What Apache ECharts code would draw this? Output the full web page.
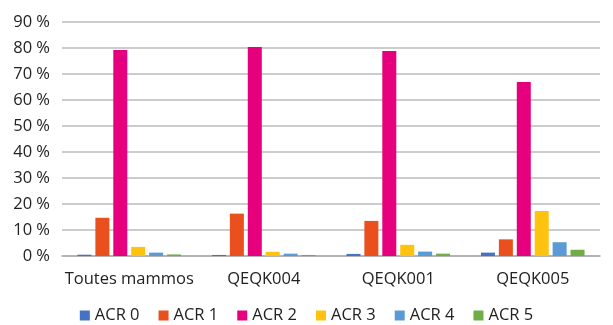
<!DOCTYPE html>
<html>
<head>
<meta charset="utf-8">
<script src="https://cdn.jsdelivr.net/npm/echarts@6/dist/echarts.min.js"></script>
<style>
  html, body { margin: 0; padding: 0; background: #fff; }
  #chart { width: 613px; height: 325px; }
</style>
</head>
<body>
<div id="chart"></div>
<script>
// Distribution of ACR density classes by group (percent)
const categories = ['Toutes mammos', 'QEQK004', 'QEQK001', 'QEQK005'];
const seriesNames = ['ACR 0', 'ACR 1', 'ACR 2', 'ACR 3', 'ACR 4', 'ACR 5'];
const acr0 = [0.5, 0.4, 0.8, 1.3];
const acr1 = [14.7, 16.3, 13.5, 6.4];
const acr2 = [79.2, 80.4, 78.8, 66.9];
const acr3 = [3.5, 1.6, 4.3, 17.3];
const acr4 = [1.3, 0.9, 1.7, 5.3];
const acr5 = [0.6, 0.4, 0.9, 2.4];
const yTicks = [0, 10, 20, 30, 40, 50, 60, 70, 80, 90];

const values = [acr0, acr1, acr2, acr3, acr4, acr5];
const colors = ['#4472C4', '#EA4F1E', '#E6007E', '#FFC20E', '#5B9BD5', '#70AD47'];
const font = '"Open Sans", Lato, sans-serif';

const chart = echarts.init(document.getElementById('chart'));
chart.setOption({
  animation: false,
  grid: { left: 62, right: 13, top: 22, bottom: 69 },
  legend: {
    top: 302,
    left: 'center',
    itemWidth: 10,
    itemHeight: 10,
    itemGap: 19,
    icon: 'rect',
    textStyle: { fontFamily: font, fontSize: 16.5, fontWeight: 500, color: '#222' },
    data: seriesNames
  },
  xAxis: {
    type: 'category',
    data: categories,
    axisTick: { show: false },
    axisLine: { lineStyle: { color: '#aaa', width: 1.5 } },
    axisLabel: { interval: 0, fontFamily: font, fontSize: 16.5, fontWeight: 500, color: '#222', margin: 15 }
  },
  yAxis: {
    type: 'value',
    min: yTicks[0],
    max: yTicks[yTicks.length - 1],
    interval: 10,
    axisLine: { show: false },
    axisTick: { show: false },
    splitLine: { lineStyle: { color: '#bbb', width: 1.5 } },
    axisLabel: {
      fontFamily: font, fontSize: 16.5, fontWeight: 500, color: '#222', margin: 12,
      formatter: v => v + ' %'
    }
  },
  series: seriesNames.map((name, i) => ({
    name,
    type: 'bar',
    data: values[i],
    barWidth: 14,
    barGap: '28%',
    itemStyle: { color: colors[i] }
  }))
});
</script>
</body>
</html>
